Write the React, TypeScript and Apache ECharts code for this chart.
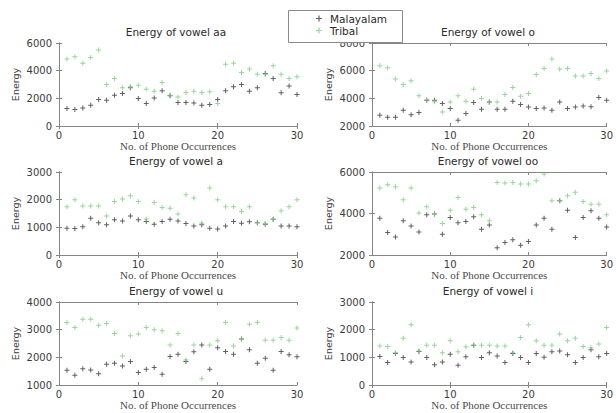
import React, { useEffect, useRef } from "react";
import * as echarts from "echarts";

const occurrences = [1, 2, 3, 4, 5, 6, 7, 8, 9, 10, 11, 12, 13, 14, 15, 16, 17, 18, 19, 20, 21, 22, 23, 24, 25, 26, 27, 28, 29, 30];
const seriesNames = ["Malayalam", "Tribal"];

const aaMal = [1260, 1190, 1310, 1500, 1910, 1860, 2230, 2350, 2760, 1990, 1620, 2030, 2540, 2180, 1690, 1690, 1670, 1500, 1550, 1910, 2540, 2830, 3000, 2520, 2760, 3800, 3440, 2400, 2900, 2280];
const aaTri = [4840, 5010, 4530, 4960, 5500, 3000, 3440, 2760, 2830, 2950, 2660, 2520, 3150, 2230, 2100, 2420, 2520, 2420, 2470, 1620, 4460, 4530, 3870, 4120, 3750, 3750, 4360, 3750, 3440, 3560];

const oMal = [2770, 2630, 2630, 3140, 2820, 2970, 3860, 3860, 3620, 3260, 2410, 2900, 3690, 3210, 3740, 3210, 3210, 3790, 3550, 3380, 3260, 3310, 3140, 3740, 3260, 3380, 3450, 3400, 4060, 3860];
const oTri = [6360, 6210, 5390, 5000, 5270, 4180, 3900, 3750, 3020, 3740, 4180, 3790, 4660, 3990, 3740, 3740, 4280, 4780, 4150, 4350, 5730, 6160, 6840, 6120, 6160, 5610, 5610, 5800, 5440, 5970];

const aMal = [970, 960, 1020, 1330, 1170, 1090, 1270, 1230, 1410, 1270, 1210, 1110, 1210, 1290, 1230, 1140, 1050, 1090, 970, 940, 1050, 1210, 1150, 1200, 1170, 1110, 1290, 1050, 1050, 1020];
const aTri = [1740, 2000, 1770, 1770, 1770, 1410, 1930, 2020, 2140, 1930, 1300, 1900, 1720, 1690, 1480, 2180, 2060, 1150, 2420, 2000, 1740, 1740, 1570, 1740, 1170, 1140, 1290, 1600, 1740, 2000];

const ooMal = [3770, 3080, 2870, 3650, 3400, 3110, 3940, 3970, 3000, 3810, 3560, 3610, 3840, 3240, 3450, 2350, 2600, 2730, 2470, 2650, 3440, 3770, 3240, 4610, 4160, 2840, 3810, 4130, 3770, 3350];
const ooTri = [5230, 5390, 5290, 4660, 5230, 4020, 4320, 3970, 3520, 4160, 4770, 4210, 4290, 3940, 3650, 5500, 5470, 5500, 5420, 5420, 5580, 5900, 4610, 4610, 4850, 5020, 4580, 4450, 4450, 3940];

const uMal = [1530, 1350, 1590, 1540, 1410, 1750, 1790, 1690, 1850, 1450, 1570, 1630, 1390, 2030, 2110, 1850, 2200, 2450, 1570, 2350, 2210, 2110, 2660, 2270, 1790, 1970, 1530, 2210, 2090, 2020];
const uTri = [3260, 3080, 3380, 3380, 3160, 3220, 2860, 2050, 2780, 2840, 3080, 3000, 2960, 2450, 2860, 1900, 2450, 1230, 2450, 2600, 3260, 2410, 2660, 3200, 3260, 2620, 2620, 2720, 2620, 3060];

const iMal = [1030, 810, 1140, 990, 830, 1210, 990, 730, 830, 1110, 710, 1020, 1440, 990, 1170, 1050, 810, 1140, 990, 810, 1140, 1000, 1200, 1230, 1090, 810, 990, 1270, 1020, 1140];
const iTri = [1410, 1390, 1170, 1690, 2180, 1230, 1440, 1440, 1170, 1600, 1200, 1380, 1440, 1440, 1440, 1410, 1410, 1170, 1720, 2180, 1600, 1440, 1440, 1840, 1600, 1690, 1390, 1350, 1480, 2080];

const panelTitles = ["Energy of vowel aa", "Energy of vowel o", "Energy of vowel a", "Energy of vowel oo", "Energy of vowel u", "Energy of vowel i"];
const yMins = [0, 2000, 0, 2000, 1000, 0];
const yMaxs = [6000, 8000, 3000, 6000, 4000, 3000];
const yIntervals = [2000, 2000, 1000, 2000, 1000, 1000];
const malValues = [aaMal, oMal, aMal, ooMal, uMal, iMal];
const triValues = [aaTri, oTri, aTri, ooTri, uTri, iTri];
const xAxisName = "No. of Phone Occurrences";
const yAxisName = "Energy";

const PLUS = "path://M4,0h2v4h4v2h-4v4h-2v-4h-4v-2h4z";

export default function App() {
  const ref = useRef<HTMLDivElement>(null);
  useEffect(() => {
    if (!ref.current) return;
    const chart = echarts.init(ref.current, null, { renderer: "svg" });
    const lefts = [59, 372];
    const widths = [238, 236];
    const tops = [43, 172, 302];
    const grids: any[] = [];
    const xAxes: any[] = [];
    const yAxes: any[] = [];
    const titles: any[] = [];
    const series: any[] = [];
    const frame = "#858585";
    const tickLabel = {
      fontFamily: "DejaVu Sans", fontSize: 10, color: "#3c3c3c",
      formatter: (v: number) => String(v),
    };
    for (let p = 0; p < 6; p++) {
      const col = p % 2;
      const row = Math.floor(p / 2);
      grids.push({ left: lefts[col], top: tops[row], width: widths[col], height: 83 });
      titles.push({
        text: panelTitles[p],
        left: lefts[col] + widths[col] / 2 - 2,
        top: tops[row] - 17,
        textAlign: "center",
        padding: 0,
        textStyle: { fontFamily: "DejaVu Sans", fontSize: 10.5, fontWeight: "normal", color: "#2a2a2a" },
      });
      xAxes.push({
        gridIndex: p, type: "value", min: 0, max: 30, interval: 10, position: "bottom",
        name: xAxisName, nameLocation: "middle", nameGap: 14,
        nameTextStyle: { fontFamily: "Liberation Serif", fontSize: 11, color: "#4a4a4a" },
        axisLine: { lineStyle: { color: frame, width: 1 } },
        axisTick: { inside: true, length: 3, lineStyle: { color: frame } },
        axisLabel: { ...tickLabel, margin: 4 },
        splitLine: { show: false },
      });
      xAxes.push({
        gridIndex: p, type: "value", min: 0, max: 30, interval: 10, position: "top",
        axisLine: { lineStyle: { color: frame, width: 1 } },
        axisTick: { inside: true, length: 3, lineStyle: { color: frame } },
        axisLabel: { show: false }, splitLine: { show: false },
      });
      yAxes.push({
        gridIndex: p, type: "value", min: yMins[p], max: yMaxs[p], interval: yIntervals[p], position: "left",
        name: yAxisName, nameLocation: "middle", nameGap: 39,
        nameTextStyle: { fontFamily: "DejaVu Sans", fontSize: 9.5, color: "#3c3c3c" },
        axisLine: { show: true, lineStyle: { color: frame, width: 1 } },
        axisTick: { show: true, inside: true, length: 3, lineStyle: { color: frame } },
        axisLabel: { ...tickLabel, margin: 7 },
        splitLine: { show: false },
      });
      yAxes.push({
        gridIndex: p, type: "value", min: yMins[p], max: yMaxs[p], interval: yIntervals[p], position: "right",
        axisLine: { show: true, lineStyle: { color: frame, width: 1 } },
        axisTick: { show: true, inside: true, length: 3, lineStyle: { color: frame } },
        axisLabel: { show: false }, splitLine: { show: false },
      });
      series.push({
        type: "scatter", name: seriesNames[0], xAxisIndex: 2 * p, yAxisIndex: 2 * p,
        symbol: PLUS, symbolSize: 5, itemStyle: { color: "#3a3a3a" },
        data: occurrences.map((x, i) => [x, malValues[p][i]]),
      });
      series.push({
        type: "scatter", name: seriesNames[1], xAxisIndex: 2 * p, yAxisIndex: 2 * p,
        symbol: PLUS, symbolSize: 5, itemStyle: { color: "#80cc80" },
        data: occurrences.map((x, i) => [x, triValues[p][i]]),
      });
    }
    chart.setOption({
      animation: false,
      backgroundColor: "#ffffff",
      title: titles,
      grid: grids,
      xAxis: xAxes,
      yAxis: yAxes,
      series,
      legend: {
        data: seriesNames,
        orient: "vertical",
        left: 316,
        top: 13,
        padding: 0,
        itemWidth: 12,
        itemHeight: 6,
        itemGap: 1,
        z: 20,
        textStyle: { fontFamily: "DejaVu Sans", fontSize: 10.5, color: "#2a2a2a", padding: [0, 0, 0, 0] },
      },
      graphic: [
        {
          type: "rect", z: 15, left: 288, top: 10,
          shape: { width: 114, height: 32 },
          style: { fill: "#ffffff", stroke: "#8a8a8a", lineWidth: 1 },
        },
      ],
    });
    return () => chart.dispose();
  }, []);
  return <div ref={ref} style={{ position: "fixed", left: 0, top: 0, width: 616, height: 413 }} />;
}
